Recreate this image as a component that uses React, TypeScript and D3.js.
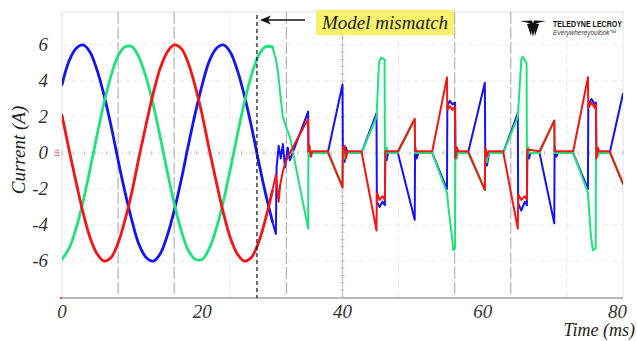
import React from 'react';
import * as d3 from 'd3';

const W = 637;
const H = 341;

// Sinusoidal part (t in ms)
const sineTimes = [0,1,2,3,4,5,6,7,8,9,10,11,12,13,14,15,16,17,18,19,20,21,22,23,24,25,26,27,28,29,30];
const blueSine = [3.8,5.1,5.8,6.0,5.6,4.6,3.2,1.5,-0.4,-2.2,-3.8,-5.1,-5.8,-6.0,-5.6,-4.6,-3.2,-1.5,0.4,2.2,3.8,5.1,5.8,6.0,5.6,4.6,3.2,1.5,-0.4,-2.2,-3.8];
const greenSine = [-5.9,-5.3,-4.2,-2.7,-0.9,1.0,2.8,4.3,5.4,5.9,5.9,5.3,4.2,2.7,0.9,-1.0,-2.8,-4.3,-5.4,-5.9,-5.9,-5.3,-4.2,-2.7,-0.9,1.0,2.8,4.3,5.4,5.9,5.9];
const redSine = [2.1,0.2,-1.6,-3.3,-4.7,-5.6,-6.0,-5.8,-5.0,-3.7,-2.1,-0.2,1.6,3.3,4.7,5.6,6.0,5.8,5.0,3.7,2.1,0.2,-1.6,-3.3,-4.7,-5.6,-6.0,-5.8,-5.0,-3.7,-2.1];

// Switching part [t (ms), current (A)]
const blueSwitch: [number, number][] = [
  [30,-3.8],[30.5,-4.5],[30.6,-0.8],[30.9,0.4],[31.2,-0.3],[31.5,0.5],[31.8,-0.8],[32.2,0.3],[32.5,-0.4],[35.1,2.3],[35.15,0],[37.9,0],
  [40.0,3.8],[40.05,0.3],[40.3,-0.5],[40.5,0.3],[40.7,0],[42.7,0],[44.85,2.2],[44.9,-2.7],[45.3,-3.0],[45.7,-2.7],[46.05,-2.9],[46.1,0.3],[46.3,-0.4],[46.5,0],[47.9,0],
  [50.3,-3.7],[50.35,0.4],[50.6,-0.3],[50.8,0],[52.8,0],[54.9,-2.0],[54.95,2.6],[55.3,2.9],[55.7,2.7],[56.05,2.8],[56.1,-0.2],[56.3,0.3],[56.5,0],[57.9,0],
  [60.3,3.9],[60.35,0.3],[60.6,-0.7],[60.9,0],[62.9,0],[65.0,2.2],[65.05,-2.8],[65.5,-3.2],[66.0,-2.7],[66.3,-2.9],[66.35,0.3],[66.6,-0.3],[66.8,0],[68.1,0],
  [70.2,-3.9],[70.25,0.4],[70.5,-0.2],[70.7,0],[72.9,0],[75.0,-2.0],[75.05,2.7],[75.5,3.0],[76.0,2.7],[76.15,2.8],[76.2,-0.2],[76.4,0.2],[76.6,0],[78.1,0],[80.0,3.3]
];
const greenSwitch: [number, number][] = [
  [30,5.9],[30.5,5.2],[30.8,4.5],[31.2,3.0],[31.5,2.0],[32.0,1.4],[32.5,0.9],[35.1,-4.2],[35.15,0.3],[35.4,-0.2],[35.6,0],[37.9,0],
  [40.0,-1.9],[40.05,0.2],[40.3,-0.3],[40.5,0],[42.7,0],[44.85,2.0],[45.2,5.0],[45.5,5.3],[46.0,5.2],[46.05,-0.5],[46.3,0.3],[46.5,0],[47.9,0],
  [50.3,1.85],[50.35,0],[52.8,0],[54.9,-2.2],[55.1,-3.0],[55.6,-4.6],[55.8,-5.4],[56.05,-5.3],[56.1,0.5],[56.3,-0.3],[56.5,0],[57.9,0],
  [60.3,-2.05],[60.35,0.2],[60.6,-0.5],[60.8,0],[62.9,0],[65.0,2.0],[65.5,5.2],[65.7,5.35],[66.25,5.0],[66.3,-0.3],[66.5,0.3],[66.7,0],[68.1,0],
  [70.2,1.8],[70.25,0],[72.9,0],[75.0,-2.2],[75.4,-4.5],[75.7,-5.4],[76.1,-5.3],[76.15,0.5],[76.4,-0.2],[76.6,0],[78.1,0],[80.0,-1.7]
];
const redSwitch: [number, number][] = [
  [30,-2.1],[30.5,-1.2],[30.7,-2.0],[30.9,-2.7],[31.1,-1.8],[31.5,-1.0],[32.0,-0.4],[32.5,0.0],[35.1,1.9],[35.15,0.1],[35.3,0.4],[35.5,-0.2],[35.7,0.1],[37.9,0.1],
  [40.0,-1.9],[40.05,0.3],[40.3,0.4],[40.5,-0.3],[40.7,0.1],[42.7,0.1],[44.85,-4.3],[44.9,-2.2],[45.3,-2.6],[45.7,-2.4],[46.05,-2.6],[46.1,0.1],[47.9,0.1],
  [50.3,1.9],[50.35,0.1],[52.8,0.1],[54.9,4.2],[54.95,2.4],[55.3,2.6],[55.7,2.4],[56.05,2.6],[56.1,-0.3],[56.3,0.3],[56.5,0.1],[57.9,0.1],
  [60.3,-2.05],[60.35,0.3],[60.6,-0.2],[60.8,0.1],[62.9,0.1],[65.0,-4.2],[65.05,-2.3],[65.5,-2.6],[66.0,-2.4],[66.3,-2.6],[66.35,0.2],[68.1,0.1],
  [70.2,1.8],[70.25,0.1],[72.9,0.1],[75.0,4.2],[75.05,2.5],[75.5,2.8],[76.0,2.5],[76.15,2.7],[76.2,-0.3],[76.4,0.3],[76.6,0.1],[78.1,0.1],[80.0,-1.7]
];

const yTicks = [6, 4, 2, 0, -2, -4, -6];
const xTicks = [0, 20, 40, 60, 80];
const darkGridT = [8, 16, 32, 56, 64];
const faintGridT = [24, 48, 72];
const mismatchT = 27.8;

const BLUE = '#1414f5';
const GREEN = '#1fe27c';
const RED = '#f51515';
const SERIF: React.CSSProperties = { fontFamily: "'Liberation Serif', 'Times New Roman', Times, serif", fontStyle: 'italic' };

export default function App() {
  const x = d3.scaleLinear().domain([0, 80]).range([62, 623]);
  const y = d3.scaleLinear().domain([-8.05, 7.83]).range([298, 12]);
  const [x0, x1] = x.range();
  const [yb, yt] = y.range();

  const sineLine = (vals: number[]) =>
    d3.line<number>().x((_, i) => x(sineTimes[i])).y(d => y(d)).curve(d3.curveCatmullRom)(vals) || '';
  const pairLine = d3.line<[number, number]>().x(d => x(d[0])).y(d => y(d[1]));

  const minorY = d3.range(-8, 7.8, 0.4);
  const minorX = d3.range(0, 80.01, 1.6);
  const mx = x(mismatchT);

  return (
    <svg width={W} height={H} style={{ position: 'absolute', left: 0, top: 0, background: '#fff' }}
      xmlns="http://www.w3.org/2000/svg">
      <defs>
        <clipPath id="plot">
          <rect x={x0} y={yt} width={x1 - x0} height={yb - yt} />
        </clipPath>
      </defs>
      {/* frame */}
      <rect x={x0} y={yt} width={x1 - x0} height={yb - yt} fill="#fff" stroke="#e2e2e2" strokeWidth={1} />
      {/* horizontal grid */}
      {yTicks.filter(v => v !== 0).map(v => (
        <line key={'hg' + v} x1={x0} x2={x1} y1={y(v)} y2={y(v)} stroke="#ececec" strokeWidth={1} strokeDasharray="6,3" />
      ))}
      {/* zero line dotted with ticks */}
      <line x1={x0} x2={x1} y1={y(0)} y2={y(0)} stroke="#c8c8c8" strokeWidth={1} strokeDasharray="1,3" />
      {minorX.map(t => (
        <line key={'mx' + t} x1={x(t)} x2={x(t)} y1={y(0) - 2} y2={y(0) + 2} stroke="#c0c0c0" strokeWidth={1} />
      ))}
      {/* vertical grid */}
      {faintGridT.map(t => (
        <line key={'fg' + t} x1={x(t)} x2={x(t)} y1={yt} y2={yb} stroke="#ececec" strokeWidth={1} strokeDasharray="10,4" />
      ))}
      {darkGridT.map(t => (
        <line key={'dg' + t} x1={x(t)} x2={x(t)} y1={yt} y2={yb} stroke="#b4b4b4" strokeWidth={1.2} strokeDasharray="12,3" />
      ))}
      <line x1={x(40)} x2={x(40)} y1={yt} y2={yb} stroke="#c4c4c4" strokeWidth={1.2} />
      {minorY.map(v => (
        <line key={'my' + v} x1={x(40) - 2} x2={x(40) + 2} y1={y(v)} y2={y(v)} stroke="#c0c0c0" strokeWidth={1} />
      ))}
      {/* bottom axis */}
      <line x1={x0} x2={x1} y1={yb} y2={yb} stroke="#b8b8b8" strokeWidth={2} />
      <circle cx={x0 - 1} cy={yb} r={1} fill={RED} />

      {/* waveforms */}
      <g clipPath="url(#plot)" fill="none" strokeLinejoin="round" strokeLinecap="round">
        <path d={sineLine(blueSine)} stroke={BLUE} strokeWidth={2.8} />
        <path d={pairLine(blueSwitch) || ''} stroke={BLUE} strokeWidth={2} />
        <path d={sineLine(greenSine)} stroke={GREEN} strokeWidth={2.8} />
        <path d={pairLine(greenSwitch) || ''} stroke={GREEN} strokeWidth={2} />
        <path d={sineLine(redSine)} stroke={RED} strokeWidth={2.8} />
        <path d={pairLine(redSwitch) || ''} stroke={RED} strokeWidth={2} />
      </g>

      {/* model mismatch marker */}
      <line x1={mx} x2={mx} y1={yt + 3} y2={yb} stroke="#111" strokeWidth={1.2} strokeDasharray="4,3" />
      <line x1={mx + 8} x2={305} y1={20} y2={20} stroke="#111" strokeWidth={1.6} />
      <path d={`M${mx + 3},20 L${mx + 14},15.5 L${mx + 11},20 L${mx + 14},24.5 Z`} fill="#111" />
      <rect x={316} y={10} width={138} height={25} fill="#f7f06c" />
      <text x={322} y={29} style={SERIF} fontSize={19} fill="#222">Model mismatch</text>

      {/* logo */}
      <g fill="#111">
        <path d="M520,21 L532,20.5 L533,24 Z" />
        <path d="M546,21 L534,20.5 L533,24 Z" />
        <path d="M527,24 L533,23 L531,36 Z" />
        <path d="M539,24 L533,23 L535,36 Z" />
        <path d="M530,23 L536,23 L533,37 Z" />
      </g>
      <text x={553} y={27} style={{ fontFamily: "'Liberation Sans Narrow', 'Liberation Sans', sans-serif" }} fontWeight="bold" fontSize={8.5}
        textLength={69} lengthAdjust="spacingAndGlyphs" fill="#111">TELEDYNE LECROY</text>
      <text x={553} y={35} style={{ fontFamily: "'Liberation Sans', sans-serif", fontStyle: 'italic' }} fontSize={6.5}
        textLength={63} lengthAdjust="spacingAndGlyphs" fill="#333">Everywhereyoulook™</text>

      {/* channel marker */}
      <text x={0} y={0} transform={`translate(59,${y(0) + 4}) rotate(-90)`} style={{ fontFamily: "'Liberation Sans', sans-serif" }}
        fontSize={6} fill={RED}>1Ω</text>

      {/* y tick labels */}
      {yTicks.map(v => (
        <text key={'yt' + v} x={48} y={y(v) + 6} textAnchor="end" style={SERIF} fontSize={19} fill="#333">
          {v}
        </text>
      ))}
      {/* x tick labels */}
      {xTicks.map(t => (
        <text key={'xt' + t} x={t === 80 ? x(t) + 4 : x(t)} y={318} textAnchor={t === 80 ? 'end' : 'middle'} style={SERIF}
          fontSize={19} fill="#333">
          {t}
        </text>
      ))}
      <text x={635} y={336} textAnchor="end" style={SERIF} fontSize={18} fill="#222">Time (ms)</text>
      <text transform={`translate(25,${150}) rotate(-90)`} textAnchor="middle" style={SERIF} fontSize={19} fill="#222">
        Current (A)
      </text>
    </svg>
  );
}
